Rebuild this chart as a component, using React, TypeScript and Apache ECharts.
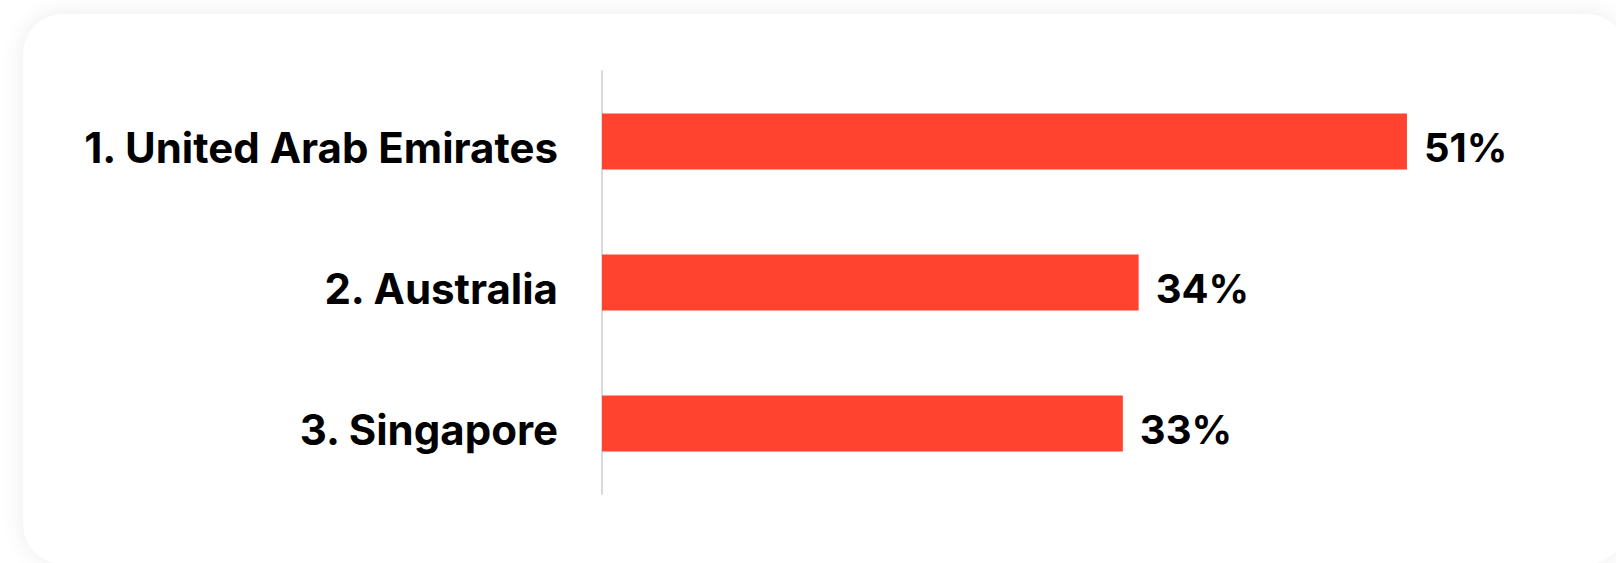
import React, { useEffect, useRef } from "react";
import * as echarts from "echarts";

const categories: string[] = ["1. United Arab Emirates", "2. Australia", "3. Singapore"];
const values: number[] = [51, 34, 33];

const FONT = "Inter, 'Noto Sans', sans-serif";

export default function App() {
  const ref = useRef<HTMLDivElement | null>(null);

  useEffect(() => {
    if (!ref.current) return;
    const chart = echarts.init(ref.current, null, { renderer: "svg" });
    chart.setOption({
      animation: false,
      backgroundColor: "transparent",
      grid: { left: 602, right: 67, top: 71, bottom: 69, containLabel: false },
      xAxis: {
        type: "value",
        min: 0,
        max: 60,
        show: false,
      },
      yAxis: {
        type: "category",
        inverse: true,
        data: categories,
        offset: 1,
        axisLine: { show: true, lineStyle: { color: "#dadada", width: 2 } },
        axisTick: { show: false },
        splitLine: { show: false },
        axisLabel: {
          margin: 43,
          formatter: (v: string) => "{c|" + v + "}",
          rich: {
            c: {
              color: "#000",
              fontFamily: FONT,
              fontWeight: "bold",
              fontSize: 42,
              padding: [12, 0, 0, 0],
            },
          },
        },
      },
      series: [
        {
          type: "bar",
          data: values,
          barWidth: 56,
          itemStyle: { color: "#FF432E" },
          label: {
            show: true,
            position: "right",
            distance: 17,
            offset: [0, 6],
            formatter: "{c}%",
            color: "#000",
            fontFamily: FONT,
            fontWeight: "bold",
            fontSize: 40,
          },
        },
      ],
    });
    return () => chart.dispose();
  }, []);

  return (
    <div
      style={{
        position: "fixed",
        left: 0,
        top: 0,
        width: 1616,
        height: 563,
        overflow: "hidden",
        background: "#ffffff",
      }}
    >
      <div
        style={{
          position: "absolute",
          left: 23,
          top: 14,
          width: 1604,
          height: 550,
          borderRadius: 40,
          background: "#ffffff",
          boxShadow: "0 0 24px rgba(0,0,0,0.08)",
        }}
      />
      <div ref={ref} style={{ position: "absolute", left: 0, top: 0, width: 1616, height: 563 }} />
    </div>
  );
}
